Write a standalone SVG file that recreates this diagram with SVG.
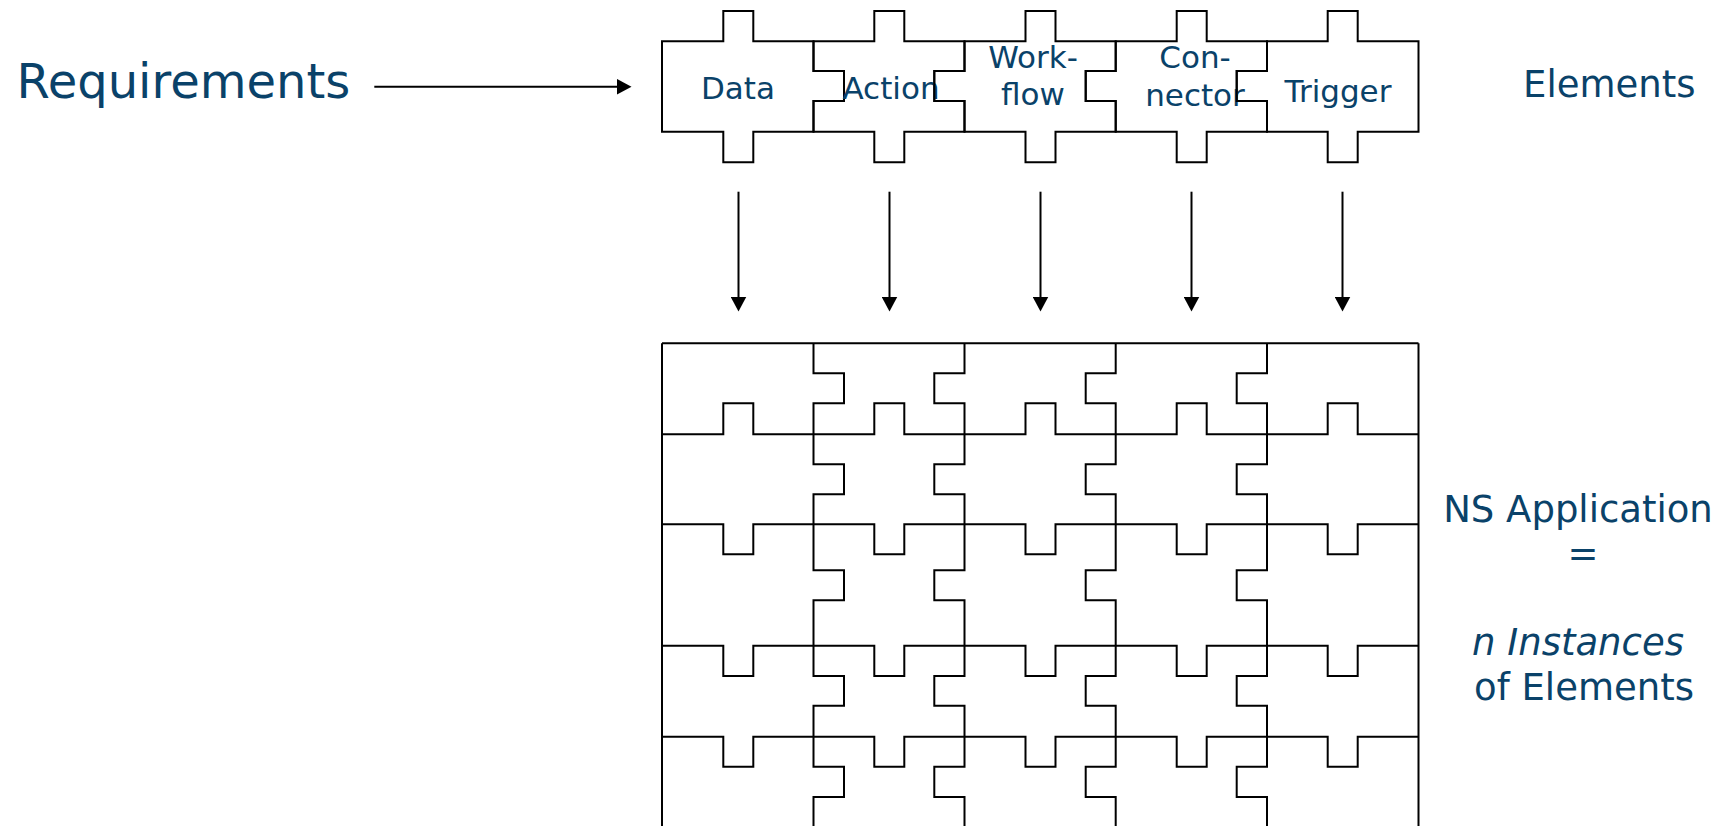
<svg xmlns="http://www.w3.org/2000/svg" width="1733" height="826" viewBox="0 0 1733 826">
  <style>
    .piece { fill: none; stroke: #000; stroke-width: 2; stroke-linejoin: miter; }
    .conn { fill: none; stroke: #000; stroke-width: 2; }
    .lbl { font-family: "DejaVu Sans", Verdana, sans-serif; fill: #0a4269; }
    .pl { font-size: 31px; text-anchor: middle; }
    .side { font-size: 37px; text-anchor: middle; }
  </style>
  <defs>
    <marker id="arrow" markerUnits="userSpaceOnUse" markerWidth="16" markerHeight="16" refX="0.5" refY="8" orient="auto">
      <path d="M0,0 L15,8 L0,16 Z" fill="#000"/>
    </marker>
  </defs>

  <rect width="1733" height="826" fill="#fff"/>

  <!-- input label -->
  <g id="requirements">
    <text class="lbl" x="16.5" y="97.7" font-size="48">Requirements</text>
  </g>

  <!-- the five element types -->
  <g id="data">
    <path class="piece" d="M662,41.3 H723.3 V11 H753.3 V41.3 H813.5 V71 H844 V101 H813.5 V131.7 H753.3 V162.3 H723.3 V131.7 H662 Z"/>
    <text class="lbl pl" x="738" y="99">Data</text>
  </g>
  <g id="action">
    <path class="piece" d="M813.5,41.3 H874.3 V11 H904.3 V41.3 H964.5 V71 H934.3 V101 H964.5 V131.7 H904.3 V162.3 H874.3 V131.7 H813.5 V101 H844 V71 H813.5 Z"/>
    <text class="lbl pl" x="891" y="99">Action</text>
  </g>
  <g id="workflow">
    <path class="piece" d="M964.5,41.3 H1025.5 V11 H1055.5 V41.3 H1115.7 V71 H1085.7 V101 H1115.7 V131.7 H1055.5 V162.3 H1025.5 V131.7 H964.5 V101 H934.3 V71 H964.5 Z"/>
    <text class="lbl pl" x="1033" y="67.5">Work-</text>
    <text class="lbl pl" x="1033" y="105">flow</text>
  </g>
  <g id="connector">
    <path class="piece" d="M1115.7,41.3 H1176.7 V11 H1206.7 V41.3 H1267 V71 H1236.7 V101 H1267 V131.7 H1206.7 V162.3 H1176.7 V131.7 H1115.7 V101 H1085.7 V71 H1115.7 Z"/>
    <text class="lbl pl" x="1195" y="67.5">Con-</text>
    <text class="lbl pl" x="1195" y="106">nector</text>
  </g>
  <g id="trigger">
    <path class="piece" d="M1267,41.3 H1327.7 V11 H1357.7 V41.3 H1418.5 V131.7 H1357.7 V162.3 H1327.7 V131.7 H1267 V101 H1236.7 V71 H1267 Z"/>
    <text class="lbl pl" x="1338" y="101.5" font-size="32">Trigger</text>
  </g>

  <g id="elements-label">
    <text class="lbl" x="1523" y="96.7" font-size="37">Elements</text>
  </g>

  <!-- assembled application: interlocking grid of instances -->
  <g id="ns-application">
    <path class="piece" d="M662,343.3 H1418.5 M662,343.3 V830 M1418.5,343.3 V830"/>
    <!-- row seams -->
    <path class="piece" d="M662,434.3 H723.3 V403.3 H753.3 V434.3 H874.3 V403.3 H904.3 V434.3 H1025.5 V403.3 H1055.5 V434.3 H1176.7 V403.3 H1206.7 V434.3 H1327.7 V403.3 H1357.7 V434.3 H1418.5"/>
    <path class="piece" d="M662,524.3 H723.3 V554.3 H753.3 V524.3 H874.3 V554.3 H904.3 V524.3 H1025.5 V554.3 H1055.5 V524.3 H1176.7 V554.3 H1206.7 V524.3 H1327.7 V554.3 H1357.7 V524.3 H1418.5"/>
    <path class="piece" d="M662,645.7 H723.3 V676 H753.3 V645.7 H874.3 V676 H904.3 V645.7 H1025.5 V676 H1055.5 V645.7 H1176.7 V676 H1206.7 V645.7 H1327.7 V676 H1357.7 V645.7 H1418.5"/>
    <path class="piece" d="M662,736.7 H723.3 V766.7 H753.3 V736.7 H874.3 V766.7 H904.3 V736.7 H1025.5 V766.7 H1055.5 V736.7 H1176.7 V766.7 H1206.7 V736.7 H1327.7 V766.7 H1357.7 V736.7 H1418.5"/>
    <!-- column seams -->
    <path class="piece" d="M813.5,343.3 V373.3 H844 V403.3 H813.5 V464.3 H844 V494.3 H813.5 V570.3 H844 V600.3 H813.5 V676 H844 V705.7 H813.5 V766.7 H844 V797 H813.5 V830"/>
    <path class="piece" d="M964.5,343.3 V373.3 H934.3 V403.3 H964.5 V464.3 H934.3 V494.3 H964.5 V570.3 H934.3 V600.3 H964.5 V676 H934.3 V705.7 H964.5 V766.7 H934.3 V797 H964.5 V830"/>
    <path class="piece" d="M1115.7,343.3 V373.3 H1085.7 V403.3 H1115.7 V464.3 H1085.7 V494.3 H1115.7 V570.3 H1085.7 V600.3 H1115.7 V676 H1085.7 V705.7 H1115.7 V766.7 H1085.7 V797 H1115.7 V830"/>
    <path class="piece" d="M1267,343.3 V373.3 H1236.7 V403.3 H1267 V464.3 H1236.7 V494.3 H1267 V570.3 H1236.7 V600.3 H1267 V676 H1236.7 V705.7 H1267 V766.7 H1236.7 V797 H1267 V830"/>
  </g>

  <g id="ns-application-label">
    <text class="lbl side" x="1578" y="521.7">NS Application</text>
    <text class="lbl side" x="1583" y="566">=</text>
    <text class="lbl side" x="1578" y="655" font-style="italic">n Instances</text>
    <text class="lbl side" x="1584" y="700">of Elements</text>
  </g>

  <!-- connectors -->
  <g id="connectors">
    <line class="conn" x1="374.3" y1="86.7" x2="617" y2="86.7" marker-end="url(#arrow)"/>
    <line class="conn" x1="738.5" y1="191.7" x2="738.5" y2="297" marker-end="url(#arrow)"/>
    <line class="conn" x1="889.5" y1="191.7" x2="889.5" y2="297" marker-end="url(#arrow)"/>
    <line class="conn" x1="1040.5" y1="191.7" x2="1040.5" y2="297" marker-end="url(#arrow)"/>
    <line class="conn" x1="1191.5" y1="191.7" x2="1191.5" y2="297" marker-end="url(#arrow)"/>
    <line class="conn" x1="1342.5" y1="191.7" x2="1342.5" y2="297" marker-end="url(#arrow)"/>
  </g>
</svg>
